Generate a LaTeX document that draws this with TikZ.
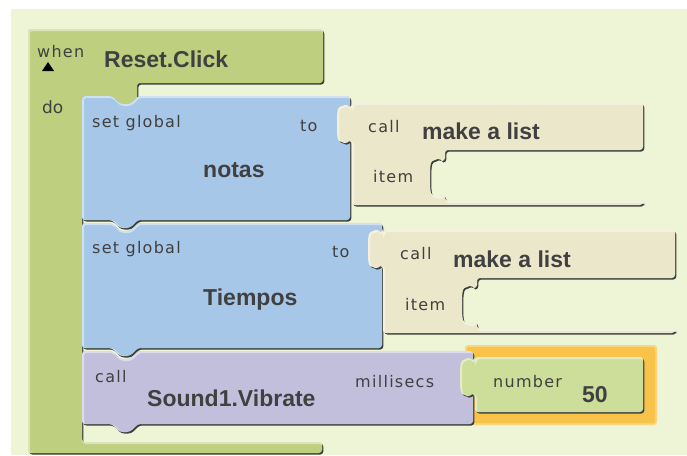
\documentclass[tikz,border=0pt]{standalone}
\usepackage{fontspec}
\setmainfont{Liberation Sans}
\newfontfamily\lblfont[LetterSpace=8]{DejaVu Sans}
\newfontfamily\dofont{DejaVu Sans}
\definecolor{bg}{HTML}{EEF4D6}
\definecolor{evgreen}{HTML}{BFCF80}
\definecolor{blk}{HTML}{A6C7E8}
\definecolor{beige}{HTML}{EBE7CA}
\definecolor{purp}{HTML}{C2BFDD}
\definecolor{numg}{HTML}{CCDE99}
\definecolor{orng}{HTML}{F8C348}
\definecolor{txt}{HTML}{404040}
\definecolor{shd}{HTML}{3A3F3A}
\newcommand\blkshape[2]{%
 \fill[shd,rounded corners=3pt,xshift=1.3pt,yshift=-1.5pt] #2;
 \fill[#1,rounded corners=3pt] #2;
 \begin{scope}
  \clip[rounded corners=3pt] #2;
  \draw[white,opacity=.45,line width=2pt,rounded corners=3pt,xshift=1pt,yshift=-1pt] #2;
 \end{scope}}
\tikzset{
 ptabdown/.style 2 args={insert path={ -- ({#1},{#2}) .. controls ({#1-3},{#2}) and ({#1-5},{#2-3}) .. ({#1-10},{#2-1}) .. controls ({#1-15},{#2+1}) and ({#1-15},{#2+10}) .. ({#1-15},{#2+17}) .. controls ({#1-15},{#2+24}) and ({#1-15},{#2+33}) .. ({#1-10},{#2+35}) .. controls ({#1-5},{#2+37}) and ({#1-3},{#2+34}) .. ({#1},{#2+34})}},
 ptabup/.style 2 args={insert path={ -- ({#1},{#2+34}) .. controls ({#1-3},{#2+34}) and ({#1-5},{#2+37}) .. ({#1-10},{#2+35}) .. controls ({#1-15},{#2+33}) and ({#1-15},{#2+24}) .. ({#1-15},{#2+17}) .. controls ({#1-15},{#2+10}) and ({#1-15},{#2+1}) .. ({#1-10},{#2-1}) .. controls ({#1-5},{#2-3}) and ({#1-3},{#2}) .. ({#1},{#2})}},
 lbl/.style={font=\lblfont\fontsize{16}{16}\selectfont, text=txt, inner sep=0pt, anchor=base west},
 ttl/.style={font=\fontsize{23}{23}\selectfont\bfseries, text=txt, inner sep=0pt, anchor=base west},
}
\begin{document}
\begin{tikzpicture}[x=1pt,y=-1pt]
\useasboundingbox (0,0) rectangle (687,455);
\fill[white] (0,0) rectangle (687,455);
\fill[bg] (11,9) rectangle (687,455);
% event block
\blkshape{evgreen}{(28,29) -- (323,29) -- (323,83) -- (137,83) -- (137,104) -- (82,104) -- (82,442) -- (322,442) -- (322,453) -- (28,453) -- cycle}
\fill[black] (42,71) -- (54,71) -- (48,62) -- cycle;
% blue 1
\blkshape{blk}{(82,96) -- (112,96) -- (120,104) -- (130,104) -- (138,96) -- (350,96) -- (350,220) -- (138,220) -- (130,228) -- (120,228) -- (112,220) -- (82,220) -- cycle}
% beige 1
\blkshape{beige}{(352,103) -- (643,103) -- (643,150) -- (445,150) [ptabdown={445}{161}] -- (445,201) -- (643,201) -- (643,205) -- (352,205) [ptabup={352}{107}] -- cycle}
% blue 2
\blkshape{blk}{(82,223) -- (112,223) -- (120,231) -- (130,231) -- (138,223) -- (382,223) -- (382,348) -- (138,348) -- (130,356) -- (120,356) -- (112,348) -- (82,348) -- cycle}
% beige 2
\blkshape{beige}{(383,230) -- (675,230) -- (675,278) -- (477,278) [ptabdown={477}{288}] -- (477,329) -- (675,329) -- (675,333) -- (383,333) [ptabup={383}{232}] -- cycle}
% orange highlight
\fill[orng!70!white,rounded corners=3pt] (465,345) rectangle (657,425);
\fill[orng,rounded corners=2pt] (467,347) rectangle (655,423);
% purple
\blkshape{purp}{(82,351) -- (112,351) -- (120,359) -- (130,359) -- (138,351) -- (473,351) -- (473,424) -- (138,424) -- (130,432) -- (120,432) -- (112,424) -- (82,424) -- cycle}
% number
\blkshape{numg}{(475,357) -- (643,357) -- (643,412) -- (475,412) [ptabup={475}{360}] -- cycle}
% texts
\node[lbl] (when) at (37,57) {when};
\node[ttl] (reset) at (104,67) {Reset.Click};
\node[lbl,font=\dofont\fontsize{17}{17}\selectfont] (do) at (42,113) {do};
\node[lbl] (sg1) at (92,127) {set global};
\node[lbl] (to1) at (300,131) {to};
\node[ttl] (notas) at (203,177) {notas};
\node[lbl] (call1) at (368,132) {call};
\node[ttl] (mal1) at (422,139) {make a list};
\node[lbl] (item1) at (373,182) {item};
\node[lbl] (sg2) at (92,253) {set global};
\node[lbl] (to2) at (332,257) {to};
\node[ttl] (tiempos) at (203,305) {Tiempos};
\node[lbl] (call2) at (400,259) {call};
\node[ttl] (mal2) at (453,267) {make a list};
\node[lbl] (item2) at (405,310) {item};
\node[lbl] (call3) at (95,382) {call};
\node[ttl] (sound) at (147,406) {Sound1.Vibrate};
\node[lbl] (ms) at (355,387) {millisecs};
\node[lbl] (num) at (493,387) {number};
\node[ttl] (fifty) at (582,402) {50};
\end{tikzpicture}
\end{document}
